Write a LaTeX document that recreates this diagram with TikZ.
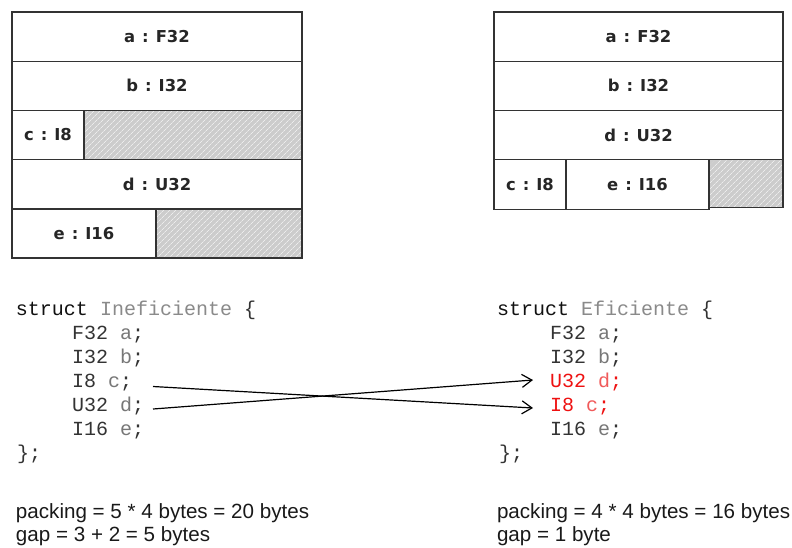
\documentclass[tikz,border=0pt]{standalone}
\usepackage{fontspec}
\newfontfamily\boxfont{DejaVu Sans}
\newfontfamily\codefont{Liberation Mono}
\newfontfamily\notefont{Liberation Sans}
\usetikzlibrary{patterns.meta,arrows.meta}

\definecolor{boxline}{HTML}{333333}
\definecolor{padfill}{HTML}{CCCCCC}
\definecolor{padline}{HTML}{ECECEC}
\definecolor{kwcol}{HTML}{111111}
\definecolor{namecol}{HTML}{8A8A8A}
\definecolor{typecol}{HTML}{333333}
\definecolor{varcol}{HTML}{777777}
\definecolor{hotcol}{HTML}{EE1111}
\definecolor{hotvar}{HTML}{F05A5A}

\newcommand{\kw}[1]{\textcolor{kwcol}{#1}}
\newcommand{\sname}[1]{\textcolor{namecol}{#1}}
\newcommand{\fld}[2]{\textcolor{typecol}{#1} \textcolor{varcol}{#2}\textcolor{typecol}{;}}
\newcommand{\hotfld}[2]{\textcolor{hotcol}{#1} \textcolor{hotvar}{#2}\textcolor{hotcol}{;}}
% "name : type" with the wide gaps round the colon
\newcommand{\slot}[2]{#1\hspace{7pt}:\hspace{7pt}#2}

\begin{document}
\begin{tikzpicture}[x=1pt,y=-1pt,
  cell/.style={draw=boxline, line width=1.4pt, fill=white, anchor=north west,
    inner sep=0pt, outer sep=0pt, minimum height=49.2pt,
    font=\boxfont\bfseries\fontsize{16.4}{19}\selectfont, text=black!85},
  pad/.style={draw=boxline, line width=1.4pt, anchor=north west,
    inner sep=0pt, outer sep=0pt, minimum height=49.2pt,
    preaction={fill=padfill},
    pattern={Lines[angle=45,distance=4pt,line width=0.8pt]}, pattern color=padline},
  code/.style={anchor=base west, inner sep=0pt, outer sep=0pt,
    font=\codefont\fontsize{20}{24}\selectfont, text=typecol},
  note/.style={anchor=base west, inner sep=0pt, outer sep=0pt,
    font=\notefont\fontsize{20.6}{24}\selectfont, text=black!90},
  swap/.style={line width=1.2pt, black, -{Straight Barb[length=10pt,width=13pt,line width=1.2pt]}}
]
\useasboundingbox (0,0) rectangle (792,547);

% ---- inefficient layout ----
\node[cell, minimum width=290pt] (La) at (12,12) {\slot{a}{F32}};
\node[cell, minimum width=290pt] (Lb) at (12,61.2) {\slot{b}{I32}};
\node[cell, minimum width=72pt] (Lc) at (12,110.4) {\slot{c}{I8}};
\node[pad, minimum width=218pt] (Lcp) at (84,110.4) {};
\node[cell, minimum width=290pt] (Ld) at (12,159.6) {\slot{d}{U32}};
\node[cell, minimum width=144pt] (Le) at (12,208.8) {\slot{e}{I16}};
\node[pad, minimum width=146pt] (Lep) at (156,208.8) {};

% ---- efficient layout ----
\node[cell, minimum width=289pt] (Ra) at (494,12) {\slot{a}{F32}};
\node[cell, minimum width=289pt] (Rb) at (494,61.2) {\slot{b}{I32}};
\node[cell, minimum width=289pt] (Rd) at (494,110.4) {\slot{d}{U32}};
\node[cell, minimum width=72pt, minimum height=50pt] (Rc) at (494,159.6) {\slot{c}{I8}};
\node[cell, minimum width=143pt, minimum height=50pt] (Re) at (566,159.6) {\slot{e}{I16}};
\node[pad, minimum width=74pt, minimum height=48pt] (Rep) at (709,159.6) {};

% ---- inefficient struct ----
\node[code] (ls) at (16,315.5) {\kw{struct} \sname{Ineficiente} \textcolor{typecol}{\{}};
\node[code] (la) at (72,339.5) {\fld{F32}{a}};
\node[code] (lb) at (72,363.5) {\fld{I32}{b}};
\node[code] (lc) at (72,387.5) {\fld{I8}{c}};
\node[code] (ld) at (72,411.5) {\fld{U32}{d}};
\node[code] (le) at (72,435.5) {\fld{I16}{e}};
\node[code] (lz) at (17,459.5) {\textcolor{typecol}{\};}};

% ---- efficient struct ----
\node[code] (rs) at (497,315.5) {\kw{struct} \sname{Eficiente} \textcolor{typecol}{\{}};
\node[code] (ra) at (550,339.5) {\fld{F32}{a}};
\node[code] (rb) at (550,363.5) {\fld{I32}{b}};
\node[code] (rd) at (550,387.5) {\hotfld{U32}{d}};
\node[code] (rc) at (550,411.5) {\hotfld{I8}{c}};
\node[code] (re) at (550,435.5) {\fld{I16}{e}};
\node[code] (rz) at (499,459.5) {\textcolor{typecol}{\};}};

% ---- reordering arrows ----
\coordinate (cfrom) at (153,386.5);
\coordinate (dfrom) at (153,409);
\coordinate (dto) at (533,380);
\coordinate (cto) at (533,408);
\draw[swap] (cfrom) -- (cto);
\draw[swap] (dfrom) -- (dto);

% ---- size notes ----
\node[note] (lp) at (16,518) {packing = 5 * 4 bytes = 20 bytes};
\node[note] (lg) at (16,541) {gap = 3 + 2 = 5 bytes};
\node[note] (rp) at (497,518) {packing = 4 * 4 bytes = 16 bytes};
\node[note] (rg) at (497,541) {gap = 1 byte};
\end{tikzpicture}
\end{document}
